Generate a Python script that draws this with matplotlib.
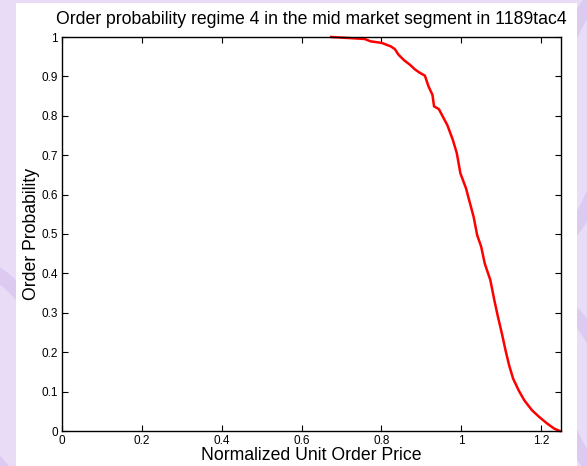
import numpy as np
import matplotlib.pyplot as plt
from matplotlib.patches import Rectangle, Ellipse

plt.rcParams['font.family'] = ['Liberation Sans', 'DejaVu Sans']

# empirical order probability vs normalized unit price
price = [0.674, 0.758, 0.773, 0.801, 0.824, 0.834, 0.843, 0.857, 0.871, 0.885,
         0.895, 0.909, 0.918, 0.928, 0.932, 0.944, 0.956, 0.965, 0.979, 0.989,
         0.998, 1.012, 1.022, 1.031, 1.040, 1.050, 1.059, 1.073, 1.083, 1.092,
         1.102, 1.111, 1.120, 1.130, 1.144, 1.158, 1.177, 1.195, 1.214, 1.233,
         1.247]
prob = [1.0, 0.995, 0.989, 0.985, 0.976, 0.969, 0.955, 0.941, 0.930, 0.917,
        0.910, 0.902, 0.875, 0.853, 0.824, 0.817, 0.794, 0.777, 0.739, 0.705,
        0.654, 0.616, 0.578, 0.544, 0.497, 0.468, 0.425, 0.383, 0.332, 0.290,
        0.247, 0.205, 0.167, 0.133, 0.103, 0.078, 0.053, 0.036, 0.020, 0.006,
        0.0]

fig = plt.figure(figsize=(5.87, 4.66), dpi=100)
fig.patch.set_facecolor('#e9dcf7')

# decorative background swirls
for (cx, cy, w, h, a) in [(0.02, 0.18, 0.20, 0.55, 20), (0.99, 0.75, 0.12, 0.55, -10),
                          (1.0, 0.15, 0.10, 0.40, 15)]:
    fig.patches.append(Ellipse((cx, cy), w, h, angle=a, transform=fig.transFigure,
                               facecolor='none', edgecolor='#dccaf1', lw=10, zorder=0))
fig.patches.append(Rectangle((16 / 587, 0), 561 / 587, 463 / 466, transform=fig.transFigure,
                             facecolor='white', edgecolor='none', zorder=1))

ax = fig.add_axes([62 / 587, 35 / 466, 499 / 587, 394 / 466])
ax.set_zorder(2)
ax.plot(price, prob, color='red', lw=1.8, clip_on=False)

ax.set_xlim(0, 1.25)
ax.set_ylim(0, 1)
ax.set_xticks(np.arange(0, 1.21, 0.2))
ax.set_xticklabels(['0', '0.2', '0.4', '0.6', '0.8', '1', '1.2'])
ax.set_yticks(np.arange(0, 1.01, 0.1))
ax.set_yticklabels(['0', '0.1', '0.2', '0.3', '0.4', '0.5', '0.6', '0.7', '0.8', '0.9', '1'])
ax.tick_params(direction='in', top=True, right=True, length=4, width=0.8,
               labelsize=8.5, pad=3)
for s in ax.spines.values():
    s.set_linewidth(1.0)

ax.set_title('Order probability regime 4 in the mid market segment in 1189tac4',
             fontsize=12.7, pad=9)
ax.set_xlabel('Normalized Unit Order Price', fontsize=12.7, labelpad=0)
ax.set_ylabel('Order Probability', fontsize=12.7, labelpad=1)

plt.savefig('out.png', facecolor=fig.get_facecolor())
